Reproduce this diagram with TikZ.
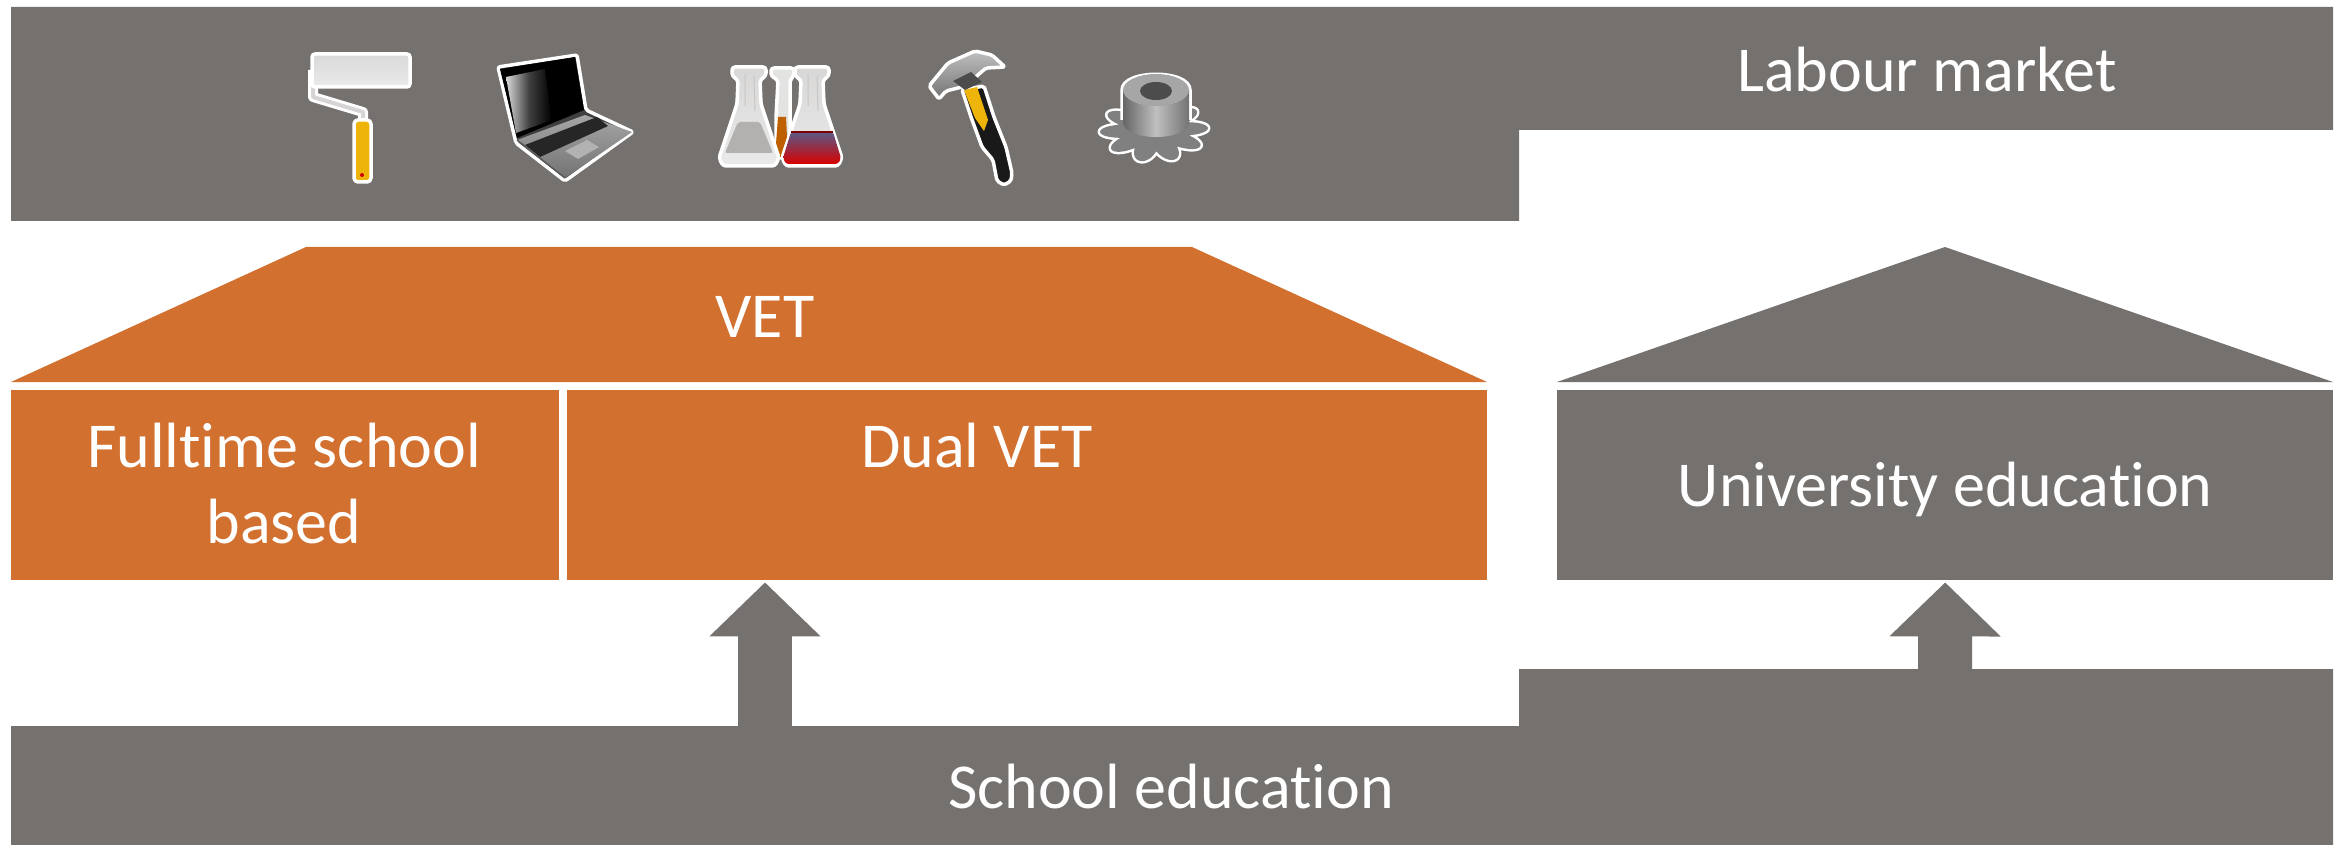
\documentclass[tikz,border=0pt]{standalone}
\usepackage{fontspec}
\setmainfont{Carlito}[Ligatures=NoCommon]
\usetikzlibrary{arrows.meta}
\definecolor{bandgray}{RGB}{117,113,111}
\definecolor{vetorange}{RGB}{210,112,47}
\definecolor{iconyellow}{RGB}{238,180,10}
\tikzset{
  graybox/.style={fill=bandgray,inner sep=0pt,anchor=north west},
  orangebox/.style={fill=vetorange,inner sep=0pt,anchor=north west},
  boxtext/.style={text=white,font=\fontsize{64}{76}\selectfont,align=center,inner sep=0pt},
  blockarrow/.style={draw=bandgray,line width=54pt,-{Triangle[length=54pt 0 0,width=108pt 0 0,fill=bandgray]},shorten >=2pt},
  iconedge/.style={draw=white,line width=3.5pt,line join=round},
  flaskicon/.pic={
    \path[iconedge,top color=white!72!bandgray,bottom color=white!85!bandgray,rounded corners=3pt]
      (-17,-99) -- (17,-99) -- (17,-90) -- (11,-86) -- (12,-62) -- (30,-8) -- (26,0) -- (-26,0) -- (-30,-8) -- (-12,-62) -- (-11,-86) -- (-17,-90) -- cycle;
    \draw[white!60!bandgray,line width=1pt] (-4,-92) -- (-4,-60) (5,-90) -- (6,-55);
  }
}
\begin{document}
\begin{tikzpicture}[x=1pt,y=-1pt]
\useasboundingbox (0,0) rectangle (2343,845);

% bands
\fill[bandgray] (11,7) -- (2333,7) -- (2333,130) -- (1519,130) -- (1519,221) -- (11,221) -- cycle;
\fill[bandgray] (11,726) -- (1519,726) -- (1519,669) -- (2333,669) -- (2333,845) -- (11,845) -- cycle;
\node[boxtext] (labour) at (1927,70) {Labour market};
\node[boxtext] (school) at (1171,787) {School education};

% VET
\fill[vetorange] (306,247) -- (1192,247) -- (1487,382) -- (11,382) -- cycle;
\node[boxtext] (vet) at (765,317) {VET};
\node[orangebox,minimum width=548pt,minimum height=190pt] (fulltime) at (11,390) {};
\node[orangebox,minimum width=920pt,minimum height=190pt] (dual) at (567,390) {};
\node[boxtext] (fulltimetext) at (284,484) {Fulltime school\\based};
\node[boxtext] (dualtext) at (977,446) {Dual VET};

% university
\fill[bandgray] (1557,382) -- (1945,247) -- (2333,382) -- cycle;
\node[graybox,minimum width=776pt,minimum height=190pt] (university) at (1557,390) {};
\node[boxtext] (universitytext) at ([yshift=-4pt]university.center) {University education};

% arrows
\coordinate (schooltop) at (765,727);
\coordinate (steptop) at (1945,670);
\draw[blockarrow] (schooltop) -- (schooltop |- dual.south);
\draw[blockarrow] (steptop) -- (university.south);

% roller
\draw[white,line width=10pt,line join=round] (313,70) -- (313,97) -- (363,112) -- (363,122);
\draw[white!70!bandgray,line width=4pt,line join=round] (313,70) -- (313,97) -- (363,112) -- (363,122);
\path[iconedge,top color=white!85!black,bottom color=white!92!black,rounded corners=3pt] (312,54) rectangle (410,87);
\path[iconedge,fill=iconyellow,rounded corners=4pt] (354,120) rectangle (371,182);
\fill[red!80!black] (362,175) circle (2);

% laptop
\path[iconedge,fill=black!75,rounded corners=2pt] (498,67) -- (577,55) -- (586,110) -- (633,132) -- (565,181) -- (516,143) -- cycle;
\fill[black] (500,69) -- (575,57) -- (584,110) -- (517,138) -- cycle;
\path[left color=white!85!black,right color=black,middle color=black!75] (506,77) -- (545,69) -- (552,120) -- (516,133) -- cycle;
\fill[black] (545,69) -- (575,63) -- (583,107) -- (552,120) -- cycle;
\path[top color=black!35,bottom color=black!55] (517,140) -- (585,115) -- (632,132) -- (565,178) -- cycle;
\fill[black!85] (525,145) -- (597,117) -- (608,126) -- (540,157) -- cycle;
\fill[black!30] (565,151) -- (587,140) -- (599,147) -- (578,159) -- cycle;
\draw[black!65,line width=1.5pt] (517,140) -- (565,178);

% flasks
\path[iconedge,fill=white!80!bandgray,rounded corners=3pt] (771,68) -- (794,68) -- (794,76) -- (790,80) -- (790,158) -- (776,158) -- (776,118) -- (778,80) -- (771,76) -- cycle;
\fill[orange!75!black] (778,117) -- (786,117) -- (788,157) -- (775,157) -- cycle;
\pic at (749,166) {flaskicon};
\fill[white!45!bandgray,rounded corners=2pt] (738,122) -- (760,122) -- (773,153) -- (725,153) -- cycle;
\pic at (812,166) {flaskicon};
\path[top color=black!40!blue!30!gray,middle color=orange!70!gray,bottom color=red!85!black,rounded corners=2pt] (791,132) -- (833,132) -- (841,158) -- (838,164) -- (786,164) -- (783,158) -- cycle;
\draw[red!50!black,line width=1.2pt] (791,132) -- (833,132);

% hammer
\path[iconedge,fill=black!90,rounded corners=2pt] (962,90) -- (984,86) -- (994,117) -- (1006,147) -- (1012,173) -- (1011,181) -- (1004,185) -- (997,181) -- (993,160) -- (982,147) -- (971,117) -- cycle;
\fill[iconyellow] (964,90) -- (977,87) -- (988,120) -- (984,131) -- (975,118) -- cycle;
\path[iconedge,top color=white!75!black,bottom color=black!55,rounded corners=2pt] (929,86) -- (948,63) -- (975,51) -- (992,55) -- (1005,67) -- (986,68) -- (971,81) -- (966,86) -- (946,91) -- (939,99) -- cycle;
\fill[black!70] (953,81) -- (971,72) -- (982,82) -- (965,90) -- cycle;

% gear
\fill[black!50,preaction={draw=white,line width=5pt,line join=round}] plot[samples=181,domain=0:360] ({1154+54*(.66+.34*abs(cos(5*\x+18)))*cos(\x)},{130+32*(.66+.34*abs(cos(5*\x+18)))*sin(\x)}) -- cycle;
\draw[white,line width=3.5pt] (1122,120) -- (1122,90) .. controls (1122,69) and (1190,69) .. (1190,90) -- (1190,120);
\path[left color=black!60,right color=black!55,middle color=black!25] (1123,90) -- (1123,122) .. controls (1123,142) and (1189,142) .. (1189,122) -- (1189,90) -- cycle;
\fill[black!35] (1156,90) ellipse (33 and 16);
\fill[black!70] (1156,91) ellipse (16 and 9);
\end{tikzpicture}
\end{document}
